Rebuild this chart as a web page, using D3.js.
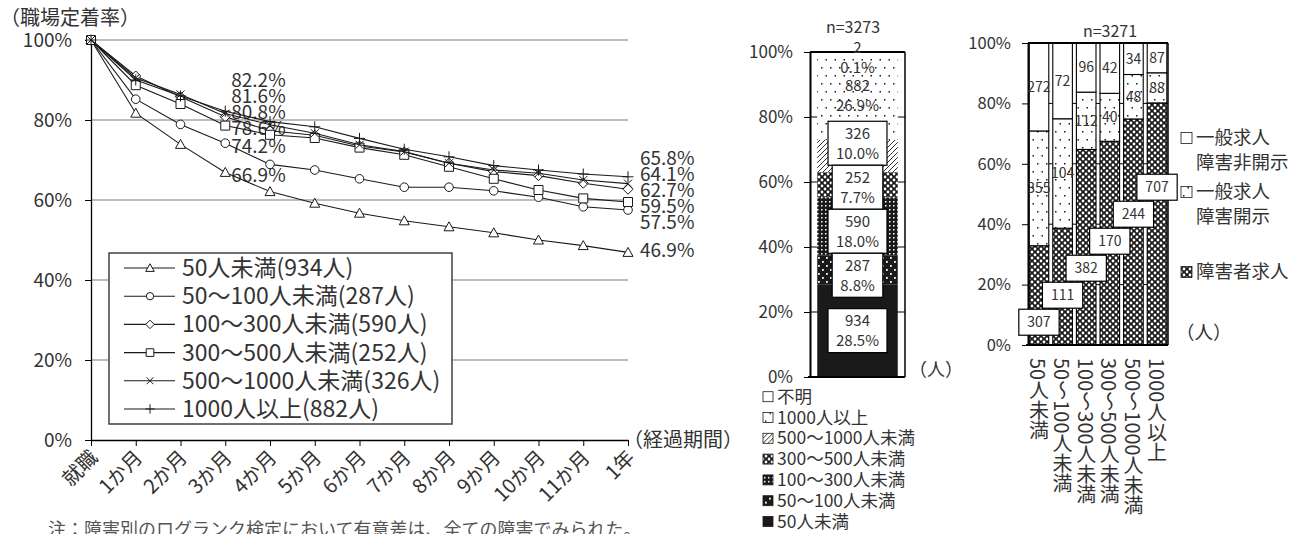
<!DOCTYPE html>
<html lang="ja">
<head>
<meta charset="UTF-8">
<title>企業規模別 職場定着率</title>
<script src="https://cdn.jsdelivr.net/npm/d3@7"></script>
<style>
  body { margin: 0; background: #fff; }
  svg { font-family: "Noto Sans CJK JP", "Noto Sans", sans-serif; }
</style>
</head>
<body>
<svg width="1300" height="534"></svg>
<script>
// 経過期間
const periods = ["就職", "1か月", "2か月", "3か月", "4か月", "5か月", "6か月",
                 "7か月", "8か月", "9か月", "10か月", "11か月", "1年"];
// 企業規模
const sizeNames = ["50人未満", "50〜100人未満", "100〜300人未満", "300〜500人未満",
                   "500〜1000人未満", "1000人以上", "不明"];
const sizeCounts = [934, 287, 590, 252, 326, 882, 2];

// 職場定着率(%)
const rate50   = [100, 81.7, 73.9, 66.9, 62.1, 59.2, 56.7, 54.8, 53.3, 51.8, 50.0, 48.6, 46.9];
const rate100  = [100, 85.2, 78.9, 74.2, 68.9, 67.5, 65.3, 63.2, 63.2, 62.3, 60.7, 58.3, 57.5];
const rate300  = [100, 91.0, 85.8, 80.8, 77.3, 76.2, 73.5, 72.0, 69.2, 67.1, 66.1, 64.2, 62.7];
const rate500  = [100, 88.7, 84.0, 78.6, 76.3, 75.5, 73.1, 71.3, 68.3, 65.3, 62.5, 60.4, 59.5];
const rate1000 = [100, 90.5, 86.4, 81.6, 78.8, 76.7, 73.8, 72.1, 69.2, 67.5, 66.7, 65.0, 64.1];
const rateOver = [100, 90.0, 86.0, 82.2, 79.6, 78.3, 75.4, 72.7, 70.8, 68.6, 67.5, 66.5, 65.8];
const rateTicks = [0, 20, 40, 60, 80, 100];

// 求人種類別の人数（規模別）
const jobNames = ["障害者求人", "一般求人 障害開示", "一般求人 障害非開示"];
const jobDisabled = [307, 111, 382, 170, 244, 707];
const jobOpen     = [355, 104, 112, 40, 48, 88];
const jobClosed   = [272, 72, 96, 42, 34, 87];
const shareTicks = [0, 0.2, 0.4, 0.6, 0.8, 1];

const svg = d3.select("svg");
const defs = svg.append("defs");
const ink = "#1a1a1a", txt = "#333";

// ---- 塗りパターン ----
function addPattern(id, w, h, bg, marks) {
  const p = defs.append("pattern").attr("id", id)
    .attr("patternUnits", "userSpaceOnUse").attr("width", w).attr("height", h);
  p.append("rect").attr("width", w).attr("height", h).attr("fill", bg);
  marks(p);
}
function dot(p, x, y, s, c) {
  p.append("rect").attr("x", x).attr("y", y).attr("width", s).attr("height", s).attr("fill", c);
}
addPattern("solid", 4, 4, ink, () => {});
addPattern("sparseW", 8, 8, ink, p => { dot(p, 2, 1, 1.8, "#fff"); dot(p, 6, 5, 1.8, "#fff"); });
addPattern("gridW", 4, 4, ink, p => dot(p, 1, 1, 1.5, "#fff"));
addPattern("lattice", 6, 6, ink, p => {
  [[0, 0], [6, 0], [0, 6], [6, 6], [3, 3]].forEach(([a, b]) =>
    p.append("circle").attr("cx", a).attr("cy", b).attr("r", 1.4).attr("fill", "#fff"));
});
addPattern("hatch", 5, 5, "#fff", p => p.append("path")
  .attr("d", "M-1,6L6,-1M-1,1L1,-1M4,6L6,4").attr("stroke", ink).attr("stroke-width", 0.9));
addPattern("dotsB", 9, 16, "#fff", p => { dot(p, 2, 3, 1.5, ink); dot(p, 6.5, 11, 1.5, ink); });
addPattern("blank", 4, 4, "#fff", () => {});
const sizeFill = ["solid", "sparseW", "gridW", "lattice", "hatch", "dotsB", "blank"];
const jobFill = ["lattice", "dotsB", "blank"];

function styleAxis(g, fs, w) {
  g.attr("font-family", null).attr("font-size", fs).attr("color", "#000");
  g.selectAll("text").attr("fill", txt);
  g.select(".domain").attr("stroke-width", w);
}
// 重なったラベルを上下に広げる（ys は昇順）
function spread(ys, gap) {
  const out = ys.slice();
  for (let k = 0; k < 400; k++) {
    for (let i = 0; i < out.length - 1; i++) {
      const d = out[i + 1] - out[i];
      if (d < gap) { const m = (gap - d) / 2; out[i] -= m; out[i + 1] += m; }
    }
  }
  return out;
}
// 下のラベルを固定して上に積む（ys は昇順）
function stackUp(ys, gap) {
  const out = ys.slice();
  for (let i = out.length - 2; i >= 0; i--) out[i] = Math.min(out[i], out[i + 1] - gap);
  return out;
}

// ================= 左：職場定着率の推移 =================
const rateSeries = [rate50, rate100, rate300, rate500, rate1000, rateOver];
const markers = ["triangle", "circle", "diamond", "square", "times", "plus"];
const markerPath = {
  triangle: r => `M0,${-r}L${r},${r * 0.8}L${-r},${r * 0.8}Z`,
  circle: r => d3.symbol(d3.symbolCircle, Math.PI * r * r)(),
  diamond: r => `M0,${-r}L${r},0L0,${r}L${-r},0Z`,
  square: r => `M${-r},${-r}H${r}V${r}H${-r}Z`,
  times: r => `M${-r},${-r}L${r},${r}M${-r},${r}L${r},${-r}`,
  plus: r => `M${-r},0H${r}M0,${-r}V${r}`
};
const markerR = { triangle: 5, circle: 4.3, diamond: 5, square: 4.5, times: 4, plus: 5.5 };

const x = d3.scalePoint().domain(periods).range([91, 628]);
const y = d3.scaleLinear().domain([0, 100]).range([440, 40]);

svg.append("text").attr("x", 0).attr("y", 25).attr("font-size", 20).attr("fill", txt)
  .text("（職場定着率）");

svg.append("g").selectAll("line").data(rateTicks.filter(d => d > 0)).join("line")
  .attr("x1", x.range()[0]).attr("x2", x.range()[1])
  .attr("y1", d => y(d)).attr("y2", d => y(d))
  .attr("stroke", "#a6a6a6").attr("stroke-width", 1.3);

const yAx = svg.append("g").attr("transform", `translate(${x.range()[0]},0)`)
  .call(d3.axisLeft(y).tickValues(rateTicks).tickFormat(d => d + "%")
    .tickSize(6).tickPadding(13).tickSizeOuter(0));
styleAxis(yAx, 19, 1.3);

const xAx = svg.append("g").attr("transform", `translate(0,${y(0)})`)
  .call(d3.axisBottom(x).tickSize(6).tickSizeOuter(0).tickFormat(""));
styleAxis(xAx, 20, 1.3);
svg.append("g").selectAll("text").data(periods).join("text")
  .attr("transform", d => `translate(${x(d) + 3},${y(0) + 14}) rotate(-45)`)
  .attr("text-anchor", "end").attr("dy", "0.35em")
  .attr("font-size", 20).attr("fill", txt).text(d => d);
svg.append("text").attr("x", 623).attr("y", y(0)).attr("dy", "0.35em")
  .attr("font-size", 20).attr("fill", txt).text("（経過期間）");

// 値ラベル（3か月・1年）
function valueLabels(period, dx, place) {
  const i = periods.indexOf(period);
  const vals = rateSeries.map(s => s[i]).sort((a, b) => b - a);
  const ys = place(vals.map(v => y(v)));
  svg.append("g").selectAll("text").data(vals).join("text")
    .attr("x", x(period) + dx).attr("y", (d, k) => ys[k]).attr("dy", "0.35em")
    .attr("font-size", 19).attr("fill", txt).text(d => d3.format(".1f")(d) + "%");
}
valueLabels("3か月", 6, ys => stackUp(ys.map(v => v + 3), 16));
valueLabels("1年", 12, ys => spread(ys, 16).map(v => v - 2));

const line = d3.line().x((d, i) => x(periods[i])).y(d => y(d));
rateSeries.forEach((s, k) => {
  const g = svg.append("g");
  g.append("path").attr("d", line(s)).attr("fill", "none")
    .attr("stroke", ink).attr("stroke-width", 1.1);
  g.selectAll("path.m").data(s).join("path").attr("class", "m")
    .attr("transform", (d, i) => `translate(${x(periods[i])},${y(d)})`)
    .attr("d", markerPath[markers[k]](markerR[markers[k]]))
    .attr("fill", "#fff").attr("stroke", ink).attr("stroke-width", 1);
});

// 凡例
const lg = svg.append("g");
lg.append("rect").attr("x", 109).attr("y", 253).attr("width", 343).attr("height", 171)
  .attr("fill", "#fff").attr("stroke", "#404040").attr("stroke-width", 1.5);
rateSeries.forEach((s, k) => {
  const yy = 268 + k * 28.2;
  lg.append("line").attr("x1", 124).attr("x2", 175).attr("y1", yy).attr("y2", yy)
    .attr("stroke", ink).attr("stroke-width", 1.1);
  lg.append("path").attr("transform", `translate(150,${yy})`)
    .attr("d", markerPath[markers[k]](markerR[markers[k]] * 0.85))
    .attr("fill", "#fff").attr("stroke", ink);
  lg.append("text").attr("x", 182).attr("y", yy).attr("dy", "0.35em")
    .attr("font-size", 23).attr("fill", txt)
    .text(`${sizeNames[k]}(${sizeCounts[k]}人)`);
});

svg.append("text").attr("x", 48).attr("y", 536).attr("font-size", 18).attr("fill", "#555")
  .text("注：障害別のログランク検定において有意差は、全ての障害でみられた。");

// ================= 中央：企業規模の構成 =================
const sizeTotal = d3.sum(sizeCounts);
const sizeRow = Object.fromEntries(sizeNames.map((k, i) => [k, sizeCounts[i]]));
const sizeStack = d3.stack().keys(sizeNames).offset(d3.stackOffsetExpand)([sizeRow]);
const mX = d3.scaleBand().domain(["all"]).range([810, 905]).paddingOuter(0.09);
const mY = d3.scaleLinear().domain([0, 1]).range([377, 52]);
const pct = c => d3.format(".1f")(c / sizeTotal * 100) + "%";

svg.append("text").attr("x", 853).attr("y", 27).attr("dy", "0.35em").attr("text-anchor", "middle")
  .attr("font-size", 16).attr("fill", txt).text("n=" + sizeTotal);

svg.append("g").selectAll("line").data(shareTicks.slice(1, -1)).join("line")
  .attr("x1", 810).attr("x2", 905).attr("y1", d => mY(d)).attr("y2", d => mY(d))
  .attr("stroke", "#000").attr("stroke-width", 1);

svg.append("g").selectAll("rect").data(sizeStack).join("rect")
  .attr("x", mX("all")).attr("width", mX.bandwidth())
  .attr("y", d => mY(d[0][1])).attr("height", d => mY(d[0][0]) - mY(d[0][1]))
  .attr("fill", (d, i) => `url(#${sizeFill[i]})`);

const mFrame = svg.append("g").attr("stroke", "#000");
mFrame.append("line").attr("x1", 810).attr("x2", 905).attr("y1", mY(1)).attr("y2", mY(1)).attr("stroke-width", 2);
mFrame.append("line").attr("x1", 905).attr("x2", 905).attr("y1", mY(1)).attr("y2", mY(0)).attr("stroke-width", 1.5);
mFrame.append("line").attr("x1", 808).attr("x2", 905).attr("y1", mY(0)).attr("y2", mY(0)).attr("stroke-width", 2);
const mAx = svg.append("g").attr("transform", "translate(810,0)")
  .call(d3.axisLeft(mY).tickValues(shareTicks).tickFormat(d3.format(".0%"))
    .tickSize(6).tickPadding(11).tickSizeOuter(0));
styleAxis(mAx, 17, 2);

// 枠付きラベル
const mcx = mX("all") + mX.bandwidth() / 2;
const boxed = sizeStack.slice(0, 5).map((s, i) => ({ i, cy: mY((s[0][0] + s[0][1]) / 2) }))
  .sort((a, b) => a.cy - b.cy);
const boxedY = spread(boxed.map(d => d.cy), 44);
boxed.forEach((d, k) => {
  const g = svg.append("g").attr("transform", `translate(${mcx},${boxedY[k]})`);
  const r = g.append("rect").attr("fill", "#fff").attr("stroke", "#000").attr("stroke-width", 1.2);
  const t = g.selectAll("text").data([sizeCounts[d.i], pct(sizeCounts[d.i])]).join("text")
    .attr("y", (v, j) => j ? 10 : -10).attr("dy", "0.35em").attr("text-anchor", "middle")
    .attr("font-size", 15).attr("fill", txt).text(v => v);
  const w = d3.max(t.nodes(), n => n.getComputedTextLength()) + 16;
  r.attr("x", -w / 2).attr("y", -22).attr("width", w).attr("height", 44);
});
// 枠なしラベル（1000人以上・不明）
sizeStack.slice(5).forEach((s, k) => {
  const i = k + 5;
  const cy = Math.max(mY((s[0][0] + s[0][1]) / 2), mY(1) + 6);
  svg.append("g").attr("transform", `translate(${mcx},${cy})`)
    .selectAll("text").data([sizeCounts[i], pct(sizeCounts[i])]).join("text")
    .attr("y", (v, j) => j ? 10 : -10).attr("dy", "0.35em").attr("text-anchor", "middle")
    .attr("font-size", 15).attr("fill", txt).text(v => v);
});
svg.append("text").attr("x", 909).attr("y", 370).attr("dy", "0.35em")
  .attr("font-size", 18).attr("fill", txt).text("（人）");

// 中央凡例
const mLeg = svg.append("g").selectAll("g").data(sizeNames.map((n, i) => i).reverse()).join("g")
  .attr("transform", (d, k) => `translate(763,${396.7 + k * 20.8})`);
mLeg.append("rect").attr("x", 0).attr("y", -5).attr("width", 10).attr("height", 10)
  .attr("fill", d => `url(#${sizeFill[d]})`).attr("stroke", ink).attr("stroke-width", 0.8);
mLeg.append("text").attr("x", 14).attr("dy", "0.35em").attr("font-size", 17.5)
  .attr("fill", txt).text(d => sizeNames[d]);

// ================= 右：規模別の求人種類 =================
const jobSizes = sizeNames.slice(0, 6);
const jobRows = jobSizes.map((s, i) => ({
  size: s, [jobNames[0]]: jobDisabled[i], [jobNames[1]]: jobOpen[i], [jobNames[2]]: jobClosed[i]
}));
const jobStack = d3.stack().keys(jobNames).offset(d3.stackOffsetExpand)(jobRows);
const jobTotal = d3.sum(jobDisabled) + d3.sum(jobOpen) + d3.sum(jobClosed);
const jobVals = [jobDisabled, jobOpen, jobClosed];
const rX = d3.scaleBand().domain(jobSizes).range([1028, 1168]).paddingInner(0.17).paddingOuter(0.05);
const rY = d3.scaleLinear().domain([0, 1]).range([345, 43]);

svg.append("text").attr("x", 1110).attr("y", 31).attr("dy", "0.35em").attr("text-anchor", "middle")
  .attr("font-size", 16).attr("fill", txt).text("n=" + jobTotal);

svg.append("g").selectAll("line").data(shareTicks.slice(1, -1)).join("line")
  .attr("x1", 1028).attr("x2", 1168).attr("y1", d => rY(d)).attr("y2", d => rY(d))
  .attr("stroke", "#000").attr("stroke-width", 1);

jobStack.forEach((s, k) => {
  svg.append("g").selectAll("rect").data(s).join("rect")
    .attr("x", d => rX(d.data.size)).attr("width", rX.bandwidth())
    .attr("y", d => rY(d[1])).attr("height", d => rY(d[0]) - rY(d[1]))
    .attr("fill", `url(#${jobFill[k]})`).attr("stroke", "#000").attr("stroke-width", 1.1);
});

const rFrame = svg.append("g").attr("stroke", "#000");
rFrame.append("line").attr("x1", 1028).attr("x2", 1168).attr("y1", rY(1)).attr("y2", rY(1)).attr("stroke-width", 2);
rFrame.append("line").attr("x1", 1168).attr("x2", 1168).attr("y1", rY(1)).attr("y2", rY(0)).attr("stroke-width", 1.5);
rFrame.append("line").attr("x1", 1026).attr("x2", 1168).attr("y1", rY(0)).attr("y2", rY(0)).attr("stroke-width", 2);
const rAx = svg.append("g").attr("transform", "translate(1028,0)")
  .call(d3.axisLeft(rY).tickValues(shareTicks).tickFormat(d3.format(".0%"))
    .tickSize(6).tickPadding(11).tickSizeOuter(0));
styleAxis(rAx, 16.5, 2);

const bc = d => rX(d.data.size) + rX.bandwidth() / 2;
// 一般求人（枠なし）
jobStack.slice(1).forEach((s, k) => {
  svg.append("g").selectAll("text").data(s).join("text")
    .attr("x", bc).attr("y", d => rY((d[0] + d[1]) / 2)).attr("dy", "0.35em")
    .attr("text-anchor", "middle").attr("font-size", 14).attr("fill", txt)
    .text((d, i) => jobVals[k + 1][i]);
});
// 障害者求人（枠付き）
const rBoxed = jobStack[0].map((d, i) => ({ d, i, cy: rY((d[0] + d[1]) / 2) }))
  .sort((a, b) => a.cy - b.cy);
const rBoxedY = spread(rBoxed.map(b => b.cy), 27);
rBoxed.forEach((b, k) => {
  const g = svg.append("g").attr("transform", `translate(${bc(b.d)},${rBoxedY[k]})`);
  const r = g.append("rect").attr("fill", "#fff").attr("stroke", "#000").attr("stroke-width", 1.2);
  const t = g.append("text").attr("dy", "0.35em").attr("text-anchor", "middle")
    .attr("font-size", 14).attr("fill", txt).text(jobDisabled[b.i]);
  const w = t.node().getComputedTextLength() + 17;
  r.attr("x", -w / 2).attr("y", -13).attr("width", w).attr("height", 26);
});

svg.append("g").selectAll("text").data(jobSizes).join("text")
  .attr("x", d => rX(d) + rX.bandwidth() / 2).attr("y", 358)
  .style("writing-mode", "vertical-rl")
  .attr("font-size", 20).attr("fill", txt).text(d => d);

// 右凡例
const legY = [272, 192, 138];
jobNames.forEach((n, k) => {
  const g = svg.append("g").attr("transform", `translate(1181,${legY[k]})`);
  g.append("rect").attr("x", 0).attr("y", -5.5).attr("width", 11).attr("height", 11)
    .attr("fill", `url(#${jobFill[k]})`).attr("stroke", ink).attr("stroke-width", 0.8);
  g.selectAll("text").data(n.split(" ")).join("text")
    .attr("x", 15).attr("y", (v, j) => j * 25).attr("dy", "0.35em")
    .attr("font-size", 18.5).attr("fill", txt).text(v => v);
});
svg.append("text").attr("x", 1176).attr("y", 333).attr("dy", "0.35em")
  .attr("font-size", 18.5).attr("fill", txt).text("（人）");
</script>
</body>
</html>
